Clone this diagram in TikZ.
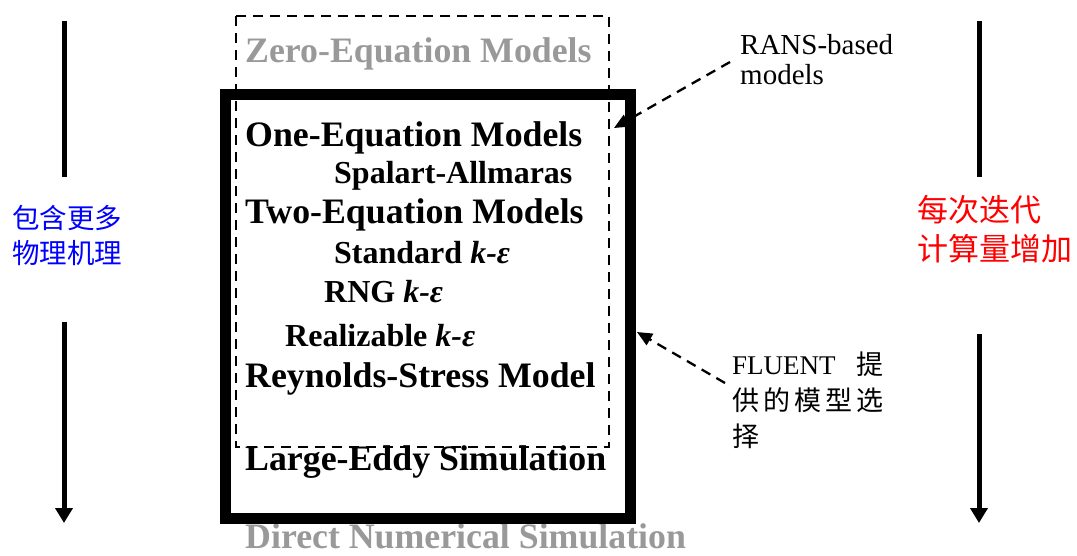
\documentclass[tikz,border=0pt]{standalone}
\usepackage{fontspec}
\setmainfont{Liberation Serif}
\newfontfamily\cjksans{Noto Sans CJK SC}
\usetikzlibrary{arrows.meta,calc}
\definecolor{fadedtext}{RGB}{153,153,153}
\definecolor{notered}{RGB}{255,0,0}
\definecolor{noteblue}{RGB}{0,0,255}

\begin{document}
\begin{tikzpicture}[x=1pt,y=-1pt,
  bigtitle/.style={anchor=base west, inner sep=0pt,
    font=\fontsize{35.8pt}{40pt}\selectfont\bfseries},
  subtitle/.style={anchor=base west, inner sep=0pt,
    font=\fontsize{32pt}{36pt}\selectfont\bfseries},
  faded/.style={text=fadedtext},
  dashbox/.style={line width=2pt, dash pattern=on 10pt off 7pt},
  pointer/.style={line width=2.3pt, dash pattern=on 10pt off 7pt,
    -{Triangle[width=13pt,length=15pt]}},
  trend/.style={line width=5pt},
  trendarrow/.style={line width=5pt, -{Triangle[width=17pt,length=15pt]}},
]
\useasboundingbox (0,0) rectangle (1077,555);

% model hierarchy
\node[bigtitle,faded] (zero) at (245,62) {Zero-Equation Models};
\node[bigtitle] (one) at (245,146) {One-Equation Models};
\node[subtitle] (sa) at (334,183) {Spalart-Allmaras};
\node[bigtitle] (two) at (245,223) {Two-Equation Models};
\node[subtitle] (ske) at (334,263) {Standard \textit{k-ε}};
\node[subtitle] (rng) at (324,302) {RNG \textit{k-ε}};
\node[subtitle] (rke) at (285,346) {Realizable \textit{k-ε}};
\node[bigtitle] (rsm) at (245,387) {Reynolds-Stress Model};
\node[bigtitle] (les) at (245,470) {Large-Eddy Simulation};
\node[bigtitle,faded] (dns) at (245,548) {Direct Numerical Simulation};

% group frames
\draw[dashbox] (236,16) rectangle (609,447);
\draw[line width=11pt] (225,94) rectangle (630,518);

% side notes
\node[anchor=north west, inner sep=0pt, align=left,
  font=\fontsize{29pt}{30pt}\selectfont] (rans) at (740,34)
  {RANS-based\\models};
\node[anchor=north west, inner sep=0pt, align=left,
  font=\fontsize{27pt}{36pt}\selectfont] (fluent) at (732,352)
  {\makebox[151pt][s]{FLUENT\hfill{\cjksans 提}}\\
   \makebox[151pt][s]{\cjksans 供\hfill 的\hfill 模\hfill 型\hfill 选}\\
   {\cjksans 择}};

\coordinate (ranstip) at (614,128);
\coordinate (fluenttip) at (637,332);
\draw[pointer] ($(rans.north west)+(-10,28)$) -- (ranstip);
\draw[pointer] ($(fluent.north west)+(-7,31)$) -- (fluenttip);

% trend arrows
\node[anchor=north west, inner sep=0pt, align=left, text=noteblue,
  font=\cjksans\fontsize{27.5pt}{35pt}\selectfont] (physics) at (12,205)
  {包含更多\\物理机理};
\node[anchor=north west, inner sep=0pt, align=left, text=notered,
  font=\cjksans\fontsize{31pt}{39pt}\selectfont] (cost) at (917,195)
  {每次迭代\\计算量增加};

\coordinate (lt) at (64,21);
\coordinate (lm) at (64,177);
\coordinate (ln) at (64,322);
\coordinate (lb) at (64,523);
\coordinate (rt) at (979,21);
\coordinate (rm) at (979,177);
\coordinate (rn) at (979,334);
\coordinate (rb) at (979,523);
\draw[trend] (lt) -- (lm);
\draw[trendarrow] (ln) -- (lb);
\draw[trend] (rt) -- (rm);
\draw[trendarrow] (rn) -- (rb);
\end{tikzpicture}
\end{document}
